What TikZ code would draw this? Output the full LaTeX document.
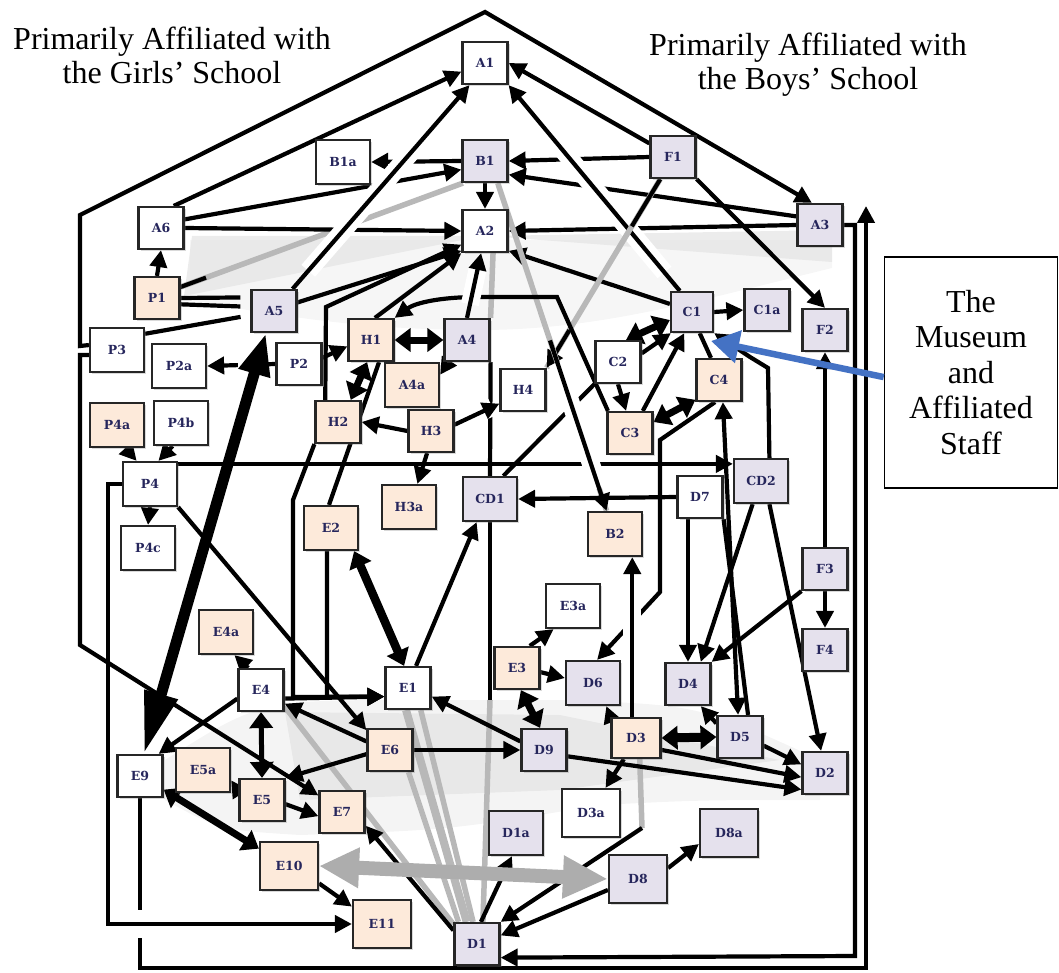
\documentclass[tikz,border=0pt]{standalone}
\usepackage{fontspec}
\setmainfont{Liberation Serif}
\newfontfamily\boxfont{DejaVu Serif}
\usetikzlibrary{arrows.meta,shadows,calc}
\definecolor{peach}{RGB}{253,234,218}
\definecolor{lav}{RGB}{229,225,237}
\definecolor{ink}{RGB}{38,38,92}
\definecolor{museblue}{RGB}{68,114,196}
\pgfdeclarelayer{shade}
\pgfdeclarelayer{edges}
\pgfsetlayers{shade,edges,main}

\newcommand*{\picw}{1059}
\newcommand*{\pich}{973}

\begin{document}
\begin{tikzpicture}
[
	x=1pt,y=-1pt,
	box/.style={draw=black!85,line width=2.2pt,inner sep=0pt,minimum width=45pt,minimum height=42pt,
		font=\boxfont\bfseries\fontsize{12.5}{12.5}\selectfont,text=ink,
		drop shadow={shadow xshift=2pt,shadow yshift=-2pt,opacity=0.3}},
	wbox/.style={box,fill=white},
	pbox/.style={box,fill=peach},
	lbox/.style={box,fill=lav},
	wd/.style={minimum width=54pt,minimum height=44pt},
	big/.style={minimum width=58pt,minimum height=48pt},
	ln/.style={line width=4.2pt},
	arr/.style={ln,arrows={-Triangle[length=17pt,width=17pt]}},
	arr2/.style={ln,arrows={Triangle[length=17pt,width=17pt]-Triangle[length=17pt,width=17pt]}},
	dbl/.style={line width=7pt,arrows={Triangle[length=16pt,width=23pt]-Triangle[length=16pt,width=23pt]}},
	gline/.style={draw=black!28,line width=5.5pt},
	halo/.style={preaction={draw=white,line width=18pt,arrows=-,#1}},
	halo/.default={shorten <=24pt,shorten >=24pt},
	gapmask/.style={draw=white,line width=15pt},
	fan/.style={fill=black!12,fill opacity=0.6},
	heading/.style={font=\fontsize{32}{34}\selectfont,align=center,inner sep=0pt}
]

	\useasboundingbox (0,0) rectangle (\picw,\pich);

	% headings
	\node[heading] (girls) at (172,55) {Primarily Affiliated with\\the Girls’ School};
	\node[heading] (boys) at (808,65) {Primarily Affiliated with\\the Boys’ School};
	\node[heading,draw,line width=1.6pt,minimum width=173pt,minimum height=231pt,font=\fontsize{32}{35.5}\selectfont]
		(mus) at (971,372.5) {The\\Museum\\and\\Affiliated\\Staff};

	% top
	\node[wbox] (A1) at (485,63) {A1};
	\node[wbox,wd] (B1a) at (343,162) {B1a};
	\node[lbox] (B1) at (485,161) {B1};
	\node[wbox] (A2) at (485,231) {A2};
	\node[wbox] (A6) at (161,228) {A6};
	\node[pbox] (P1) at (157,298) {P1};
	\node[lbox] (A5) at (274,311) {A5};
	\node[lbox] (F1) at (673,157) {F1};
	\node[lbox] (A3) at (820,225) {A3};

	% girls' side
	\node[wbox,wd] (P3) at (117,350) {P3};
	\node[wbox,wd] (P2a) at (179,366) {P2a};
	\node[wbox] (P2) at (299,364) {P2};
	\node[pbox] (H1) at (371,340) {H1};
	\node[lbox] (A4) at (467,340) {A4};
	\node[pbox,wd] (A4a) at (412,385) {A4a};
	\node[pbox] (H2) at (338,422) {H2};
	\node[pbox] (H3) at (431,431) {H3};
	\node[wbox] (H4) at (523,390) {H4};
	\node[pbox,wd] (P4a) at (117,425) {P4a};
	\node[wbox,wd] (P4b) at (181,423) {P4b};
	\node[wbox,wd] (P4) at (150,484) {P4};
	\node[wbox,wd] (P4c) at (148,548) {P4c};
	\node[pbox,wd] (H3a) at (409,507) {H3a};
	\node[lbox,wd] (CD1) at (490,499) {CD1};
	\node[pbox,wd] (E2) at (331,528) {E2};

	% boys' side
	\node[lbox,minimum width=42pt,minimum height=40pt] (C1) at (692,312) {C1};
	\node[lbox] (C1a) at (767,310) {C1a};
	\node[lbox] (F2) at (825,330) {F2};
	\node[wbox] (C2) at (618,362) {C2};
	\node[pbox] (C4) at (719,380) {C4};
	\node[pbox] (C3) at (630,433) {C3};
	\node[lbox,wd] (CD2) at (761,481) {CD2};
	\node[wbox] (D7) at (700,497) {D7};
	\node[pbox,wd] (B2) at (615,534) {B2};
	\node[lbox] (F3) at (825,569) {F3};
	\node[wbox,wd] (E3a) at (573,606) {E3a};
	\node[lbox] (F4) at (825,650) {F4};
	\node[pbox] (E3) at (517,668) {E3};
	\node[lbox,wd] (D6) at (593,683) {D6};
	\node[lbox] (D4) at (688,684) {D4};
	\node[lbox] (D9) at (544,750) {D9};
	\node[pbox,minimum width=49pt,minimum height=40pt] (D3) at (636,738) {D3};
	\node[lbox] (D5) at (740,737) {D5};
	\node[lbox] (D2) at (825,773) {D2};
	\node[wbox,big] (D3a) at (591,813) {D3a};
	\node[lbox,wd] (D1a) at (516,833) {D1a};
	\node[lbox,big] (D8a) at (729,833) {D8a};
	\node[lbox,big] (D8) at (638,879) {D8};
	\node[lbox] (D1) at (477,944) {D1};

	% bottom left
	\node[pbox,wd] (E4a) at (226,632) {E4a};
	\node[wbox] (E4) at (261,690) {E4};
	\node[wbox] (E1) at (408,688) {E1};
	\node[pbox] (E6) at (390,750) {E6};
	\node[wbox] (E9) at (140,776) {E9};
	\node[pbox,wd] (E5a) at (203,770) {E5a};
	\node[pbox] (E5) at (262,800) {E5};
	\node[pbox] (E7) at (342,812) {E7};
	\node[pbox,big] (E10) at (289,866) {E10};
	\node[pbox,big] (E11) at (382,924) {E11};

	\coordinate (cdend) at (490,700);
	\coordinate (d3b) at (642,828);
	\coordinate (mtip) at (711,341);

	\begin{pgfonlayer}{shade}
		% grey fans
		\fill[fan,fill opacity=0.3] (190,240) -- (485,240) -- (832,240) -- (832,268)
			.. controls (700,300) and (600,330) .. (480,330)
			.. controls (380,330) and (300,320) .. (190,300) -- cycle;
		\fill[fan] (482,236) -- (192,236) -- (184,296) -- cycle;
		\fill[fan] (488,236) -- (832,230) -- (832,262) -- cycle;
		\fill[fan,fill opacity=0.35] (165,760) .. controls (260,700) .. (420,700) -- (560,700)
			.. controls (700,705) .. (820,760) -- (820,800) .. controls (700,800) .. (600,805)
			.. controls (450,830) .. (300,835) .. controls (220,830) .. (165,800) -- cycle;
		\fill[fan] (285,712) -- (560,715) -- (780,760) -- (560,790) -- (300,800) -- cycle;

		% grey ties
		\draw[gline] (P1.25) -- (B1.225);
		\draw[gline] (A2.-70) -- (A4.north east);
		\draw[gline,line width=8pt] (E1.-95) -- (D1.115);
		\draw[gline] (E1.-60) -- (D1.100);
		\draw[gline] (E6.-50) -- (D1.130);
		\draw[gline] (E4.-35) -- (D1.140);
		\draw[gline] (cdend) -- (D1.75);
		\draw[gline] (D3.-80) -- (d3b);
	\end{pgfonlayer}

	\begin{pgfonlayer}{edges}
		% outer frame
		\draw[arr] (P3.170) -- (80,346) -- (80,215) -- (485,12) -- (A3.110);
		\draw[arr] (P3.190) -- (80,355) -- (80,645) -- (E7.145);
		\draw[arr] (E9.south) -- (140,968) -- (866,968) -- (866,206);
		\draw[arr] (A3.east) -| (855,956) -- (D1.-30);
		\draw[gapmask] (140,910) -- (140,938);
		\draw[arr] (P4.west) -- (108,484) -- (108,924) -- (E11.west);

		% top
		\draw[arr] (A6.60) -- (A1.200);
		\draw[arr] (B1.west) -- (B1a.east);
		\draw[arr] (A6.20) -- (B1.200);
		\draw[arr] (A6.east) -- (A2.west);
		\draw[arr] (P1.north) -- (A6.south);
		\draw[arr] (F1.150) -- (A1.east);
		\draw[arr] (F1.west) -- (B1.east);
		\draw[arr] (A3.160) -- (B1.330);
		\draw[arr] (A3.west) -- (A2.east);
		\draw[arr] (B1.south) -- (A2.north);
		\draw[arr] (F1.south east) -- (F2.north);
		\draw[arr,halo] (A5.50) -- (A1.235);
		\draw[arr,halo] (C1.120) -- (A1.south east);
		\draw[arr] (C1.160) -- (A2.320);
		\draw[ln] (P1.25) -- ($(P1.25)!0.09!(B1.225)$);

		\draw[gline] (F1.240) -- (H4.north east);
		\draw[ln] (F1.240) -- ($(F1.240)!0.25!(H4.north east)$);
		\draw[arr] ($(F1.240)!0.8!(H4.north east)$) -- (H4.north east);
		\draw[gline] (B1.300) -- (B2.110);

		\draw[arr] (C3.135) -- (557,297) -- (478,297) .. controls (440,297) and (415,303) .. (H1.north east);
		\draw[arr,halo={shorten <=14pt,shorten >=14pt}] (A4.north) -- (A2.260);
		\draw[arr] (H2.120) -- (326,307) -- (A2.210);
		\draw[arr] (H1.80) -- (A2.south west);
		\draw[arr] (A5.20) -- (A2.220);
		\draw[ln,shorten >=10pt] (P1.0) -- (A5.150);
		\draw[ln,shorten >=10pt] (P1.-15) -- (A5.170);
		\draw[ln,shorten >=10pt] (P3.30) -- (A5.190);

		% girls' side
		\draw[arr] (P2.15) -- (H1.195);
		\draw[arr] (P2.west) -- (P2a.east);
		\draw[gapmask] (238,364) -- (268,364);
		\draw[line width=11pt,arrows={Triangle[length=42pt,width=30pt]-Triangle[length=62pt,width=32pt]}]
			(A5.-110) -- (E9.80);
		\draw[dbl] (H1.east) -- (A4.west);
		\draw[arr] (A4.230) -- (A4a.20);
		\draw[dbl] (H1.260) -- (H2.60);
		\draw[ln] (E2.95) -- (H1.290);
		\draw[arr] (H2.south west) -- (293,500) -- (293,697) -- (E1.200);
		\draw[arr] (E2.260) -- (327,697) -- (E1.200);
		\draw[arr] (E4.-20) -- (E1.200);
		\draw[dbl,line width=8.5pt] (E2.-45) -- (E1.100);
		\draw[arr] (E1.70) -- (CD1.240);
		\draw[arr] (H3.west) -- (H2.east);
		\draw[arr] (H3.260) -- (H3a.70);
		\draw[ln] (A4.south east) -- (CD1.north);
		\draw[arr,halo={shorten <=8pt,shorten >=8pt}] (H3.15) -- (H4.210);
		\draw[ln] (CD1.south) -- (cdend);
		\draw[ln] (CD1.60) -- (C2.south west);
		\draw[arr] (P4a.290) -- (P4.120);
		\draw[arr] (P4b.250) -- (P4.70);
		\draw[arr] (P4.south) -- (P4c.north);
		\draw[arr] (P4.north east) ++(0,3) coordinate (p4r) -- (p4r -| CD2.west);
		\draw[arr] (P4.south east) -- (E6.140);
		\draw[arr,halo] ($(B1.300)!0.48!(B2.110)$) -- (B2.110);

		% boys' side
		\draw[arr] (D7.west) -- (CD1.east);
		\draw[arr] (D7.south -| D4.north) -- (D4.north);
		\draw[ln] (D7.south east) -- (D5.70);
		\draw[arr2] (C4.-80) -- (D5.95);
		\draw[arr] (CD2.250) -- (D4.60);
		\draw[arr] (CD2.290) -- (D2.100);
		\draw[arr] (F3.south west) -- (D4.north east);
		\draw[arr] (F3.north) -- (F2.south);
		\draw[arr] (F3.south) -- (F4.north);
		\draw[arr] (CD2.70) -- (768,368) -- (750,357) -- (C1.south east);
		\draw[arr] (C1.east) -- (C1a.west);
		\draw[ln] (C4.110) -- (C1.-70);
		\draw[dbl] (C1.200) -- (C2.70);
		\draw[arr] (C2.20) -- (C1.225);
		\draw[arr] (C3.60) -- (C1.250);
		\draw[arr] (C2.south) -- (C3.100);
		\draw[dbl] (C3.25) -- (C4.220);
		\draw[arr] (C4.-100) -- (660,440) -- (660,592) -- (D6.80);
		\draw[arr,halo] (D3.100) -- (D3.100 |- B2.south);
		\draw[arr] (D3.north west) -- (D6.-60);
		\draw[dbl,line width=9pt] (D3.east) -- (D5.west);
		\draw[arr] (D5.150) -- (D4.-60);
		\draw[arr] (D5.-20) -- (D2.160);
		\draw[arr] (D3.-25) -- (D2.190);
		\draw[arr] (D9.-15) -- (D2.215);
		\draw[arr] (D3.-120) -- (D3a.60);
		\draw[arr] (E3.60) -- (E3a.230);
		\draw[arr] (E3.-10) -- (D6.170);
		\draw[dbl] (E3.-80) -- (D9.100);
		\draw[arr] (D9.160) -- (E1.-20);
		\draw[arr] (E6.east) -- (D9.west);
		\draw[arr] (D8.20) -- (D8a.200);
		\draw[arr] (D8.200) -- (D1.20);
		\draw[arr] (d3b) -- (D1.north east);
		\draw[arr] (D1.80) -- (D1a.-100);
		\draw[arr] (D1.150) -- (E7.-30);

		% bottom left
		\draw[arr] (E10.-30) -- (E11.150);
		\draw[dbl] (E9.-30) -- (E10.150);
		\draw[arr] (E4.120) -- (E4a.-70);
		\draw[arr] (E4.200) -- (E9.50);
		\draw[dbl,line width=5pt] (E4.south) -- (E5.north);
		\draw[arr] (E6.160) -- (E4.-30);
		\draw[arr] (E6.190) -- (E5.north east);
		\draw[arr] (E5.160) -- (E5a.-20);
		\draw[arr] (E5.-10) -- (E7.190);

		\draw[draw=black!32,line width=14pt,arrows={Triangle[length=40pt,width=38pt]-Triangle[length=45pt,width=40pt]}]
			(E10.east) -- (D8.west);
	\end{pgfonlayer}

	% pointer from the museum box
	\draw[museblue,line width=6.5pt,-{Triangle[length=28pt,width=32pt]}] (mus.183) -- (mtip);

\end{tikzpicture}
\end{document}
